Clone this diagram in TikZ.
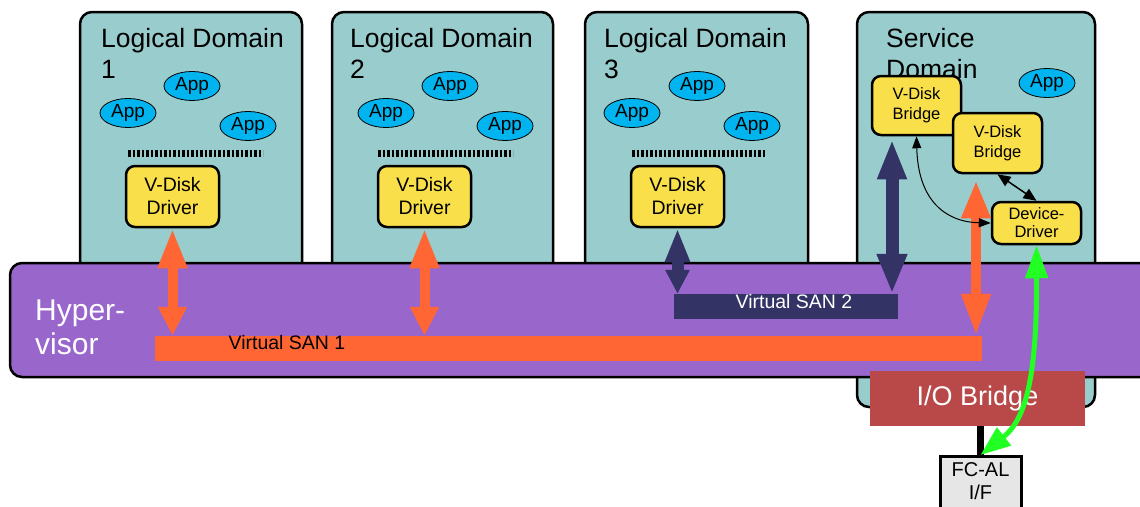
\documentclass[tikz,border=0pt]{standalone}
\usepackage{fontspec}
\setmainfont{Liberation Sans}
\usetikzlibrary{arrows.meta,shapes.geometric}
\definecolor{domteal}{HTML}{99CCCC}
\definecolor{hvpurple}{HTML}{9966CC}
\definecolor{sanorange}{HTML}{FF6633}
\definecolor{sannavy}{HTML}{333366}
\definecolor{boxyellow}{HTML}{F9E04B}
\definecolor{appblue}{HTML}{00B4F0}
\definecolor{iobred}{HTML}{B94848}
\definecolor{linkgreen}{HTML}{22FF22}
\definecolor{fcgrey}{HTML}{E6E6E6}
\tikzset{
  domainbox/.style={draw, line width=2.5pt, fill=domteal, rounded corners=12pt, inner sep=0pt},
  titletext/.style={inner sep=0pt, align=left, anchor=north west, font=\fontsize{26.5}{31}\selectfont},
  drvbox/.style={draw, line width=2.5pt, fill=boxyellow, rounded corners=9pt, inner sep=0pt, align=center,
     minimum width=93pt, minimum height=61pt, font=\fontsize{19.5}{23}\selectfont},
  brbox/.style={draw, line width=2.5pt, fill=boxyellow, rounded corners=9pt, inner sep=0pt, align=center,
     minimum width=89pt, font=\fontsize{16.5}{20}\selectfont},
  appnode/.style={ellipse, draw, line width=0.8pt, fill=appblue, inner sep=0pt, minimum width=56pt,
     minimum height=29pt, font=\fontsize{19}{20}\selectfont},
  dashbar/.style={line width=7pt, dash pattern=on 2.8pt off 1.7pt},
  sanbar/.style={inner sep=0pt, minimum height=25pt},
  sanlabel/.style={inner sep=0pt, font=\fontsize{19.5}{22}\selectfont},
  orangearrow/.style={draw=sanorange, line width=10pt, {Triangle[length=40pt,width=27pt]}-{Triangle[length=29pt,width=27pt]}},
  smallarrow/.style={draw=black, line width=1pt, {Triangle[length=12pt,width=9pt]}-{Triangle[length=12pt,width=9pt]}}
}
\begin{document}
\begin{tikzpicture}[x=1pt,y=-1pt]
\useasboundingbox (0,0) rectangle (1140,506);
\clip (0,0) rectangle (1140,506);

% domains
\node[domainbox, minimum width=222pt, minimum height=278pt] (ld1) at (191,151) {};
\node[domainbox, minimum width=221pt, minimum height=278pt] (ld2) at (442.5,151) {};
\node[domainbox, minimum width=223pt, minimum height=278pt] (ld3) at (696.5,151) {};
\node[domainbox, minimum width=238pt, minimum height=395pt] (sd) at (976,209.5) {};

% titles
\node[titletext] (t1) at (101,28) {Logical Domain\\1};
\node[titletext] (t2) at (350,28) {Logical Domain\\2};
\node[titletext] (t3) at (604,28) {Logical Domain\\3};
\node[titletext] (t4) at (886,28) {Service\\Domain};

% apps
\node[appnode] (a11) at (192,86) {App};
\node[appnode] (a12) at (128,113) {App};
\node[appnode] (a13) at (248,126) {App};
\node[appnode] (a21) at (450,86) {App};
\node[appnode] (a22) at (386,113) {App};
\node[appnode] (a23) at (505,126) {App};
\node[appnode] (a31) at (697,86) {App};
\node[appnode] (a32) at (632,113) {App};
\node[appnode] (a33) at (752,126) {App};
\node[appnode] (a41) at (1047,83) {App};

% dashed separators
\draw[dashbar] (128,153.5) -- (263,153.5);
\draw[dashbar] (378,153.5) -- (513,153.5);
\draw[dashbar] (632,153.5) -- (765,153.5);

% drivers
\node[drvbox] (drv1) at (172.5,196.5) {V-Disk\\Driver};
\node[drvbox] (drv2) at (424.5,196.5) {V-Disk\\Driver};
\node[drvbox] (drv3) at (677.5,196.5) {V-Disk\\Driver};

% service domain boxes
\node[brbox, minimum height=59pt] (b1) at (916.5,105.5) {V-Disk\\Bridge};
\node[brbox, minimum height=60pt] (b2) at (997.5,143) {V-Disk\\Bridge};
\node[brbox, minimum height=42pt, font=\fontsize{16.5}{18}\selectfont] (dd) at (1036.5,223) {Device-\\Driver};

% hypervisor
\node[draw, line width=2.5pt, fill=hvpurple, rounded corners=12pt, inner sep=0pt,
      minimum width=1160pt, minimum height=114pt] (hv) at (590,320) {};
\node[inner sep=0pt, align=left, anchor=north west, text=white,
      font=\fontsize{30}{34}\selectfont] (hvt) at (35,300) {Hyper-\\visor};

% virtual SANs
\node[sanbar, fill=sanorange, minimum width=827pt] (vs1) at (568.5,348.5) {};
\node[sanlabel, text=black] (vs1l) at (287,343) {Virtual SAN 1};
\node[sanbar, fill=sannavy, minimum width=224pt] (vs2) at (786,306.5) {};
\node[sanlabel, text=white] (vs2l) at (794,302) {Virtual SAN 2};

\coordinate (sdnav) at (892,0);
\coordinate (sdor) at (976,0);

% SAN arrows
\draw[orangearrow] (drv1.south) -- (vs1.north -| drv1.south);
\draw[orangearrow] (drv2.south) -- (vs1.north -| drv2.south);
\draw[draw=sannavy, line width=12pt, {Triangle[length=34pt,width=23pt]}-{Triangle[length=24pt,width=23pt]}]
   (drv3.south) -- (vs2.north -| drv3.south);
\draw[draw=sannavy, line width=13pt, {Triangle[length=40pt,width=27pt]}-{Triangle[length=40pt,width=28pt]}, shorten <=3pt]
   (b1.south -| sdnav) -- (vs2.north -| sdnav);
\draw[draw=sanorange, line width=10pt, {Triangle[length=38pt,width=27pt]}-{Triangle[length=42pt,width=27pt]}, shorten <=6pt]
   (b2.south -| sdor) -- (vs1.north -| sdor);

% service domain internal arrows
\draw[smallarrow] (b1.south) .. controls (918,200) and (945,222) .. (dd.west);
\draw[draw=black, line width=1.5pt, {Triangle[length=13pt,width=11pt]}-{Triangle[length=13pt,width=11pt]}]
   (b2.south) -- (dd.north);

% I/O bridge and FC-AL
\node[fill=iobred, inner sep=0pt, minimum width=215pt, minimum height=55pt, text=white,
      font=\fontsize{27}{30}\selectfont] (iob) at (977.5,398.5) {I/O Bridge};
\node[draw, line width=3pt, fill=fcgrey, inner sep=0pt, anchor=north, align=center,
      minimum width=81pt, inner ysep=6pt, text depth=30pt,
      font=\fontsize{20}{23}\selectfont] (fcal) at (980.5,455) {FC-AL\\I/F};
\draw[line width=6.5pt] (iob.south -| fcal.north) -- (fcal.north);

% green link
\draw[draw=linkgreen, line width=5pt, {Triangle[length=33pt,width=22pt]}-{Triangle[length=30pt,width=22pt]}]
   (dd.south) .. controls (1037,380) and (1025,420) .. (fcal.north);
\end{tikzpicture}
\end{document}
